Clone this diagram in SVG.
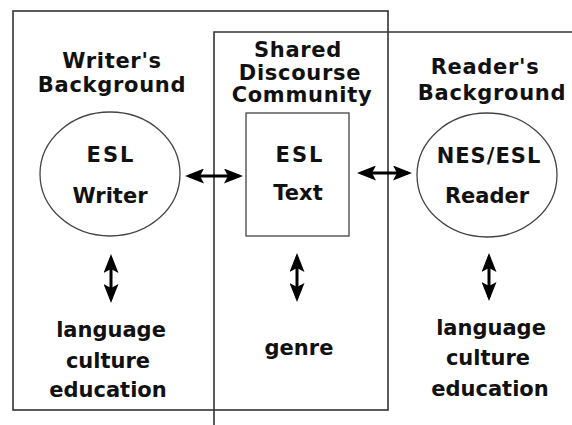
<svg xmlns="http://www.w3.org/2000/svg" width="572" height="425" viewBox="0 0 572 425">
<style>
text{font-family:"DejaVu Sans","Liberation Sans",sans-serif;font-weight:bold;font-size:21px;fill:#111;text-anchor:middle}
.h{letter-spacing:0.7px}
.w{letter-spacing:2px}
.frame{fill:none;stroke:#333;stroke-width:1.6}
.node{fill:#fff;stroke:#444;stroke-width:1.3}
.arr{stroke:#000;stroke-width:3;fill:none;marker-start:url(#ah);marker-end:url(#ah)}
</style>
<defs>
<marker id="ah" markerUnits="userSpaceOnUse" viewBox="0 0 19 15" refX="15" refY="7.5" markerWidth="19" markerHeight="15" orient="auto-start-reverse">
<path d="M0,0 L19,7.5 L0,15 L4,7.5 Z" fill="#000"/>
</marker>
</defs>
<rect width="572" height="425" fill="#fff"/>
<g id="frames">
<rect class="frame" x="13" y="11" width="375" height="399"/>
<path class="frame" d="M214,425 V32 H572"/>
</g>
<g id="writer-heading">
<text class="h" x="112" y="68">Writer's</text>
<text class="h" x="112" y="92">Background</text>
</g>
<g id="shared-heading">
<text class="h" x="298" y="57">Shared</text>
<text class="h" x="300" y="80">Discourse</text>
<text class="h" x="302" y="102">Community</text>
</g>
<g id="reader-heading">
<text class="h" x="485" y="74">Reader's</text>
<text class="h" x="492" y="100">Background</text>
</g>
<g id="writer">
<ellipse class="node" cx="110" cy="174" rx="70" ry="62"/>
<text class="w" x="111" y="162">ESL</text>
<text x="110" y="203">Writer</text>
</g>
<g id="text">
<rect class="node" x="246" y="113" width="103" height="123"/>
<text class="w" x="300" y="162">ESL</text>
<text x="298" y="200">Text</text>
</g>
<g id="reader">
<ellipse class="node" cx="487" cy="175" rx="70" ry="62"/>
<text class="w" x="489" y="163" style="letter-spacing:1px">NES/ESL</text>
<text x="487" y="203">Reader</text>
</g>
<g id="writer-factors">
<text x="111" y="337">language</text>
<text x="108" y="368">culture</text>
<text x="108" y="397">education</text>
</g>
<g id="text-factors">
<text x="299" y="355">genre</text>
</g>
<g id="reader-factors">
<text x="491" y="335">language</text>
<text x="488" y="365">culture</text>
<text x="490" y="396">education</text>
</g>
<g id="connectors">
<line class="arr" x1="189" y1="176" x2="239" y2="176"/>
<line class="arr" x1="361" y1="173" x2="408" y2="173"/>
<line class="arr" x1="111" y1="258" x2="111" y2="299"/>
<line class="arr" x1="297" y1="257" x2="297" y2="298"/>
<line class="arr" x1="489" y1="257" x2="489" y2="297"/>
</g>
</svg>
